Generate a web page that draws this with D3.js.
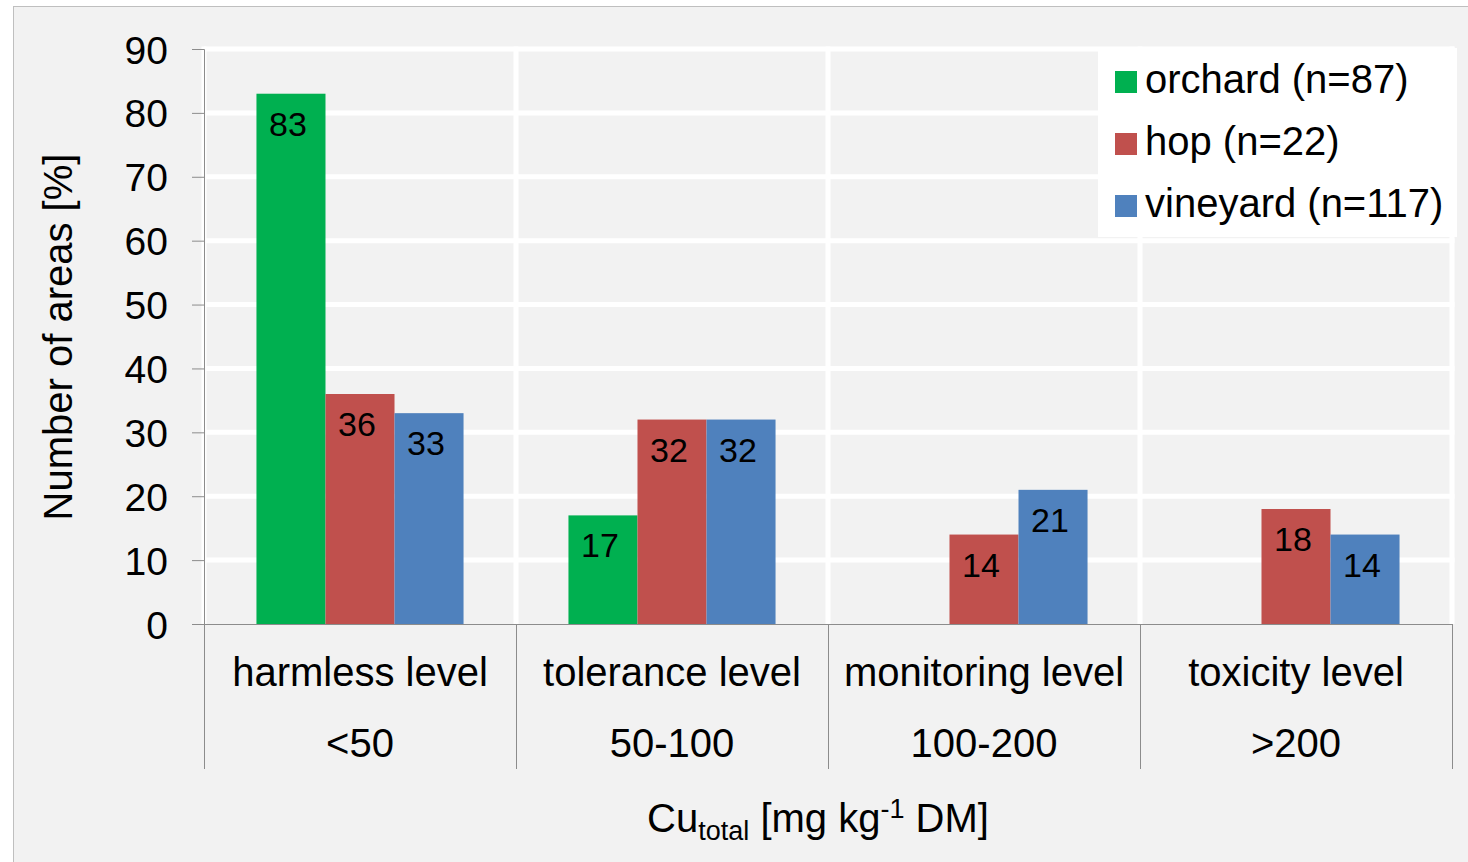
<!DOCTYPE html>
<html>
<head>
<meta charset="utf-8">
<script src="https://cdn.jsdelivr.net/npm/d3@7"></script>
<style>
  html, body { margin: 0; padding: 0; background: #ffffff; }
  svg { display: block; font-family: "Liberation Sans", Arial, sans-serif; }
</style>
</head>
<body>
<svg id="chart" width="1468" height="862"></svg>
<script>
// Share of areas per Cu contamination level, by land use
const categories = ["harmless level", "tolerance level", "monitoring level", "toxicity level"];
const ranges = ["<50", "50-100", "100-200", ">200"];
const seriesNames = ["orchard (n=87)", "hop (n=22)", "vineyard (n=117)"];
const orchard = [83, 17, null, null];
const hop = [36, 32, 14, 18];
const vineyard = [33, 32, 21, 14];
const yTicks = [0, 10, 20, 30, 40, 50, 60, 70, 80, 90];
const colors = ["#00b050", "#c0504d", "#4f81bd"];

const seriesValues = [orchard, hop, vineyard];

const svg = d3.select("#chart");
const W = 1468, H = 862;
const plot = { left: 204, right: 1452, top: 49, bottom: 624 };
const axisGray = "#8c8c8c";
const textSize = 40;

// chart background and frame
svg.append("rect").attr("x", 0).attr("y", 0).attr("width", W).attr("height", H).attr("fill", "#ffffff");
svg.append("rect")
  .attr("x", 13.5).attr("y", 6.5).attr("width", W).attr("height", H)
  .attr("fill", "#f2f2f2").attr("stroke", "#bfbfbf").attr("stroke-width", 1);

const x0 = d3.scaleBand().domain(categories).range([plot.left, plot.right]).paddingInner(0).paddingOuter(0);
const x1 = d3.scaleBand().domain(d3.range(seriesNames.length)).range([0, x0.bandwidth()])
  .paddingInner(0).paddingOuter(0.76);
const y = d3.scaleLinear().domain([0, 90]).range([plot.bottom, plot.top]);

// white gridlines
const grid = svg.append("g");
grid.selectAll("line.h").data(yTicks.filter(d => d > 0)).join("line")
  .attr("x1", plot.left).attr("x2", plot.right + 2.5)
  .attr("y1", d => y(d)).attr("y2", d => y(d))
  .attr("stroke", "#ffffff").attr("stroke-width", 5);
const bounds = categories.map(c => x0(c) + x0.bandwidth()).concat([plot.left]);
grid.selectAll("line.v").data(bounds).join("line")
  .attr("x1", d => d).attr("x2", d => d)
  .attr("y1", plot.top - 2.5).attr("y2", plot.bottom)
  .attr("stroke", "#ffffff").attr("stroke-width", 5);

// bars
const rows = [];
categories.forEach((c, ci) => {
  seriesValues.forEach((vals, si) => {
    if (vals[ci] != null) rows.push({ c, si, v: vals[ci] });
  });
});
svg.append("g").selectAll("rect").data(rows).join("rect")
  .attr("x", d => x0(d.c) + x1(d.si))
  .attr("y", d => y(d.v))
  .attr("width", x1.bandwidth())
  .attr("height", d => y(0) - y(d.v))
  .attr("fill", d => colors[d.si]);

// value labels inside the bar tops
svg.append("g").selectAll("text").data(rows).join("text")
  .attr("x", d => x0(d.c) + x1(d.si) + x1.bandwidth() / 2 - 3)
  .attr("y", d => y(d.v) + 42)
  .attr("text-anchor", "middle")
  .attr("font-size", 34)
  .attr("fill", "#000")
  .text(d => d.v);

// y axis
const yAxis = d3.axisLeft(y).tickValues(yTicks).tickSize(12).tickPadding(24).tickFormat(d3.format("d"));
const gy = svg.append("g").attr("transform", `translate(${plot.left},0)`).call(yAxis);
gy.select(".domain").attr("stroke", axisGray).attr("d", `M-12,${plot.top}.5H0.5V${plot.bottom}`);
gy.selectAll(".tick line").attr("stroke", axisGray);
gy.selectAll(".tick text").attr("font-size", 39).attr("fill", "#000")
  .attr("font-family", "Liberation Sans, Arial, sans-serif").attr("dy", "0.36em");

// x axis baseline and category dividers
const gx = svg.append("g");
gx.append("line")
  .attr("x1", plot.left - 12).attr("x2", plot.right)
  .attr("y1", plot.bottom + 0.5).attr("y2", plot.bottom + 0.5)
  .attr("stroke", axisGray).attr("stroke-width", 1);
gx.selectAll("line.div").data(bounds).join("line")
  .attr("x1", d => d + 0.5).attr("x2", d => d + 0.5)
  .attr("y1", plot.bottom).attr("y2", 769)
  .attr("stroke", axisGray).attr("stroke-width", 1);
gx.selectAll("text.cat").data(categories).join("text")
  .attr("x", d => x0(d) + x0.bandwidth() / 2)
  .attr("y", 686)
  .attr("text-anchor", "middle").attr("font-size", textSize).attr("fill", "#000")
  .text(d => d);
gx.selectAll("text.rng").data(ranges).join("text")
  .attr("x", (d, i) => x0(categories[i]) + x0.bandwidth() / 2)
  .attr("y", 757)
  .attr("text-anchor", "middle").attr("font-size", textSize).attr("fill", "#000")
  .text(d => d);

// x axis title with subscript and superscript
const xt = svg.append("text")
  .attr("x", 818).attr("y", 832)
  .attr("text-anchor", "middle").attr("font-size", textSize).attr("fill", "#000");
xt.append("tspan").text("Cu");
xt.append("tspan").attr("font-size", 27).attr("dy", 8).text("total");
xt.append("tspan").attr("dy", -8).text(" [mg kg");
xt.append("tspan").attr("font-size", 27).attr("dy", -14).text("-1");
xt.append("tspan").attr("dy", 14).text(" DM]");

// y axis title
svg.append("text")
  .attr("transform", "translate(72,337) rotate(-90)")
  .attr("text-anchor", "middle").attr("font-size", textSize).attr("fill", "#000")
  .text("Number of areas [%]");

// legend
const lg = svg.append("g");
lg.append("rect").attr("x", 1098).attr("y", 48).attr("width", 359).attr("height", 189).attr("fill", "#ffffff");
const items = lg.selectAll("g.item").data(seriesNames).join("g")
  .attr("transform", (d, i) => `translate(1115,${93 + i * 62})`);
items.append("rect").attr("x", 0).attr("y", -22).attr("width", 22).attr("height", 22)
  .attr("fill", (d, i) => colors[i]);
items.append("text").attr("x", 30).attr("y", 0).attr("font-size", textSize).attr("fill", "#000").text(d => d);
</script>
</body>
</html>
